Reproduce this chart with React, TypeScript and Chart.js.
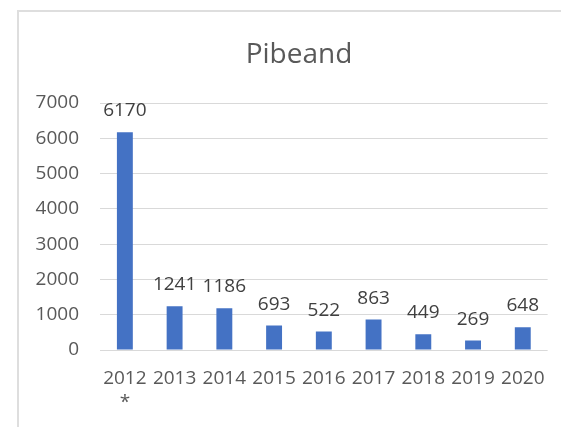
import React, { useEffect, useRef } from "react";
import { Chart, registerables } from "chart.js";

Chart.register(...registerables);

const chartTitle = "Pibeand";
const categories: (string | string[])[] = [["2012", "*"], "2013", "2014", "2015", "2016", "2017", "2018", "2019", "2020"];
const values = [6170, 1241, 1186, 693, 522, 863, 449, 269, 648];
const yMax = 7000;
const yStep = 1000;

const FONT = "'Open Sans', sans-serif";

const barLabels = {
  id: "barLabels",
  afterDatasetsDraw(chart: any) {
    const ctx = chart.ctx;
    const meta = chart.getDatasetMeta(0);
    ctx.save();
    ctx.font = `19px ${FONT}`;
    ctx.fillStyle = "#404040";
    ctx.textAlign = "center";
    ctx.textBaseline = "alphabetic";
    meta.data.forEach((bar: any, i: number) => {
      ctx.fillText(String(values[i]), bar.x, bar.y - 16);
    });
    ctx.restore();
  },
};

const titleText = {
  id: "titleText",
  afterDraw(chart: any) {
    const ctx = chart.ctx;
    ctx.save();
    ctx.font = `28px ${FONT}`;
    ctx.fillStyle = "#595959";
    ctx.textAlign = "center";
    ctx.textBaseline = "alphabetic";
    ctx.fillText(chartTitle, 299, 63);
    ctx.restore();
  },
};

export default function App() {
  const ref = useRef<HTMLCanvasElement | null>(null);
  useEffect(() => {
    if (!ref.current) return;
    const chart = new Chart(ref.current, {
      type: "bar",
      data: {
        labels: categories,
        datasets: [
          {
            data: values,
            backgroundColor: "#4472C4",
            borderWidth: 0,
            barPercentage: 0.32,
            categoryPercentage: 1,
          },
        ],
      },
      options: {
        responsive: false,
        animation: false,
        devicePixelRatio: 1,
        layout: { padding: { left: 0, right: 9, top: 103, bottom: 0 } },
        plugins: {
          legend: { display: false },
          tooltip: { enabled: false },
          title: { display: false },
        },
        scales: {
          x: {
            grid: { display: false, drawTicks: false },
            border: { display: false },
            ticks: {
              color: "#595959",
              font: { family: FONT, size: 19, lineHeight: 1.3 },
              padding: 16,
              maxRotation: 0,
              autoSkip: false,
            },
            afterFit(scale: any) {
              scale.height = 77;
            },
          },
          y: {
            min: 0,
            max: yMax,
            grid: { color: "#d9d9d9", lineWidth: 1, drawTicks: false },
            border: { display: false },
            ticks: {
              stepSize: yStep,
              color: "#595959",
              font: { family: FONT, size: 19 },
              padding: 21,
              callback: (v: any) => String(v),
            },
            afterFit(scale: any) {
              scale.width = 100;
            },
          },
        },
      },
      plugins: [barLabels, titleText],
    });
    return () => chart.destroy();
  }, []);

  return (
    <div style={{ position: "fixed", left: 0, top: 0, width: 561, height: 427, background: "#fff", overflow: "hidden" }}>
      <div
        style={{
          position: "absolute",
          left: 17,
          top: 10,
          width: 544,
          height: 417,
          borderTop: "2px solid #dedede",
          borderLeft: "2px solid #dedede",
          boxSizing: "border-box",
        }}
      />
      <canvas ref={ref} width={561} height={427} style={{ position: "absolute", left: 0, top: 0, width: 561, height: 427 }} />
    </div>
  );
}
